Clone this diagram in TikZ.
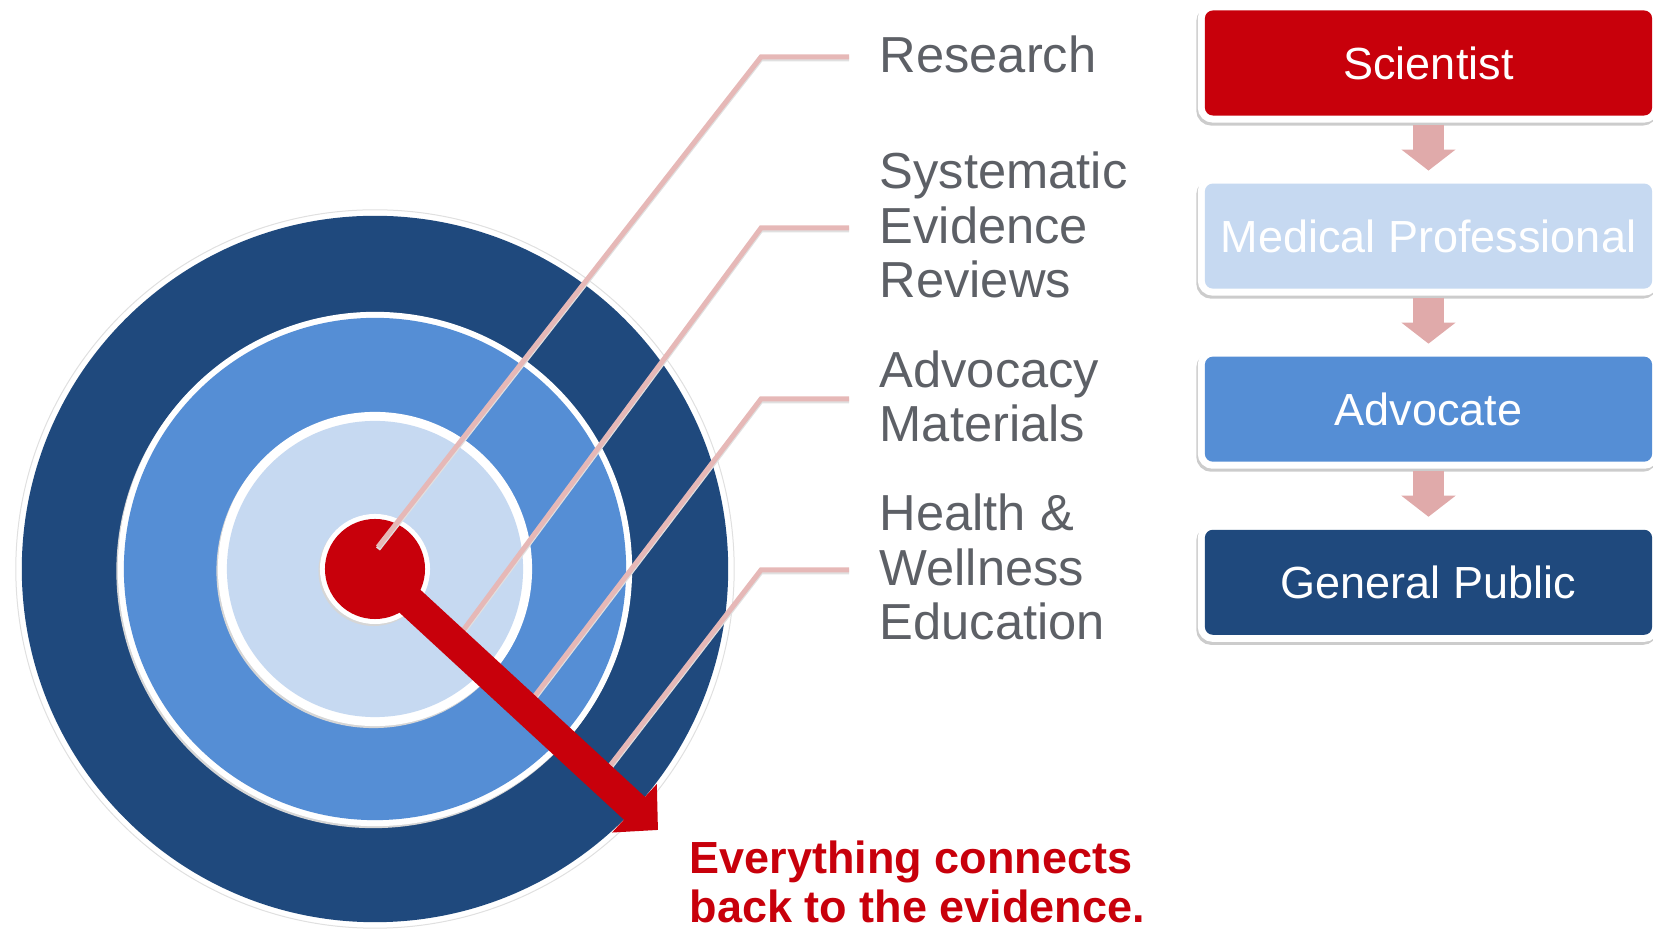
\documentclass[tikz,border=0pt]{standalone}
\usepackage{fontspec}
\setmainfont{Liberation Sans}
\usetikzlibrary{positioning,arrows.meta,calc}
\definecolor{bullred}{RGB}{200,0,11}
\definecolor{ringdark}{RGB}{31,73,125}
\definecolor{ringmid}{RGB}{85,142,213}
\definecolor{ringlight}{RGB}{198,217,241}
\definecolor{leader}{RGB}{230,184,183}
\definecolor{flowpink}{RGB}{224,170,170}
\definecolor{labelgray}{RGB}{93,96,102}

\tikzset{
  ring/.style={fill=white,preaction={fill=black!16,transform canvas={shift={(-0.015cm,-0.02cm)}}}},
  leaderline/.style={leader,line width=0.05cm,preaction={draw=black!12,line width=0.05cm,transform canvas={shift={(0cm,-0.02cm)}}}},
  tag/.style={anchor=west,inner sep=0pt,align=left,text=labelgray,font=\fontsize{14.4}{15.4}\selectfont},
  rolebox/.style={minimum width=4.47cm,minimum height=1.05cm,rounded corners=0.08cm,inner sep=0pt,outer sep=0pt,
    text=white,font=\fontsize{12.8}{14}\selectfont,
    preaction={draw=black!20,line width=0.14cm,transform canvas={shift={(-0.015cm,-0.03cm)}}},
    preaction={draw=white,line width=0.14cm}},
  flow/.style={flowpink,line width=0.31cm,-{Triangle[width=0.53cm,length=0.21cm]}}
}

\begin{document}
\begin{tikzpicture}[x=0.01cm,y=-0.01cm]
\useasboundingbox (0,0) rectangle (1653,931);
\coordinate (c) at (375,569);

% bullseye
\fill[white,draw=black!12,line width=0.01cm] (c) circle (3.59cm);
\fill[ringdark] (c) circle (3.53cm);
\fill[ring] (c) circle (2.57cm);
\fill[ringmid] (c) circle (2.51cm);
\fill[ring] (c) circle (1.57cm);
\fill[ringlight] (c) circle (1.48cm);
\fill[ring] (c) circle (0.55cm);
\fill[bullred] (c) circle (0.50cm);

% labels and their leader lines
\node[tag] (res) at (879,54) {Research};
\node[tag] (rev) at (879,225) {Systematic\\Evidence\\Reviews};
\node[tag] (adv) at (879,396) {Advocacy\\Materials};
\node[tag] (edu) at (879,567) {Health \&\\Wellness\\Education};

\coordinate (t1) at (378,547);
\coordinate (t2) at (459,636);
\coordinate (t3) at (531,701);
\coordinate (t4) at (606,771);

\draw[leaderline] (res.west) ++(-30,3) -- ++(-88,0) -- (t1);
\draw[leaderline] (rev.west) ++(-30,3) -- ++(-88,0) -- (t2);
\draw[leaderline] (adv.west) ++(-30,3) -- ++(-88,0) -- (t3);
\draw[leaderline] (edu.west) ++(-30,3) -- ++(-88,0) -- (t4);

% arrow out of the centre
\coordinate (hit) at (658,830);
\draw[bullred,line width=0.31cm,-{Triangle[width=0.64cm,length=0.32cm]}] (c) -- (hit);

\node[anchor=north west,inner sep=0pt,align=left,text=bullred,font=\bfseries\fontsize{12.8}{14}\selectfont] (msg) at (689,840) {Everything connects\\back to the evidence.};

% audience chain
\node[rolebox,fill=bullred] (sci) at (1428.5,63) {Scientist};
\node[rolebox,fill=ringlight,below=0.68cm of sci] (med) {Medical Professional};
\node[rolebox,fill=ringmid,below=0.68cm of med] (advo) {Advocate};
\node[rolebox,fill=ringdark,below=0.68cm of advo] (pub) {General Public};

\draw[flow] ($(sci.south)+(0,9)$) -- ($(med.north)+(0,-13)$);
\draw[flow] ($(med.south)+(0,9)$) -- ($(advo.north)+(0,-13)$);
\draw[flow] ($(advo.south)+(0,9)$) -- ($(pub.north)+(0,-13)$);
\end{tikzpicture}
\end{document}
